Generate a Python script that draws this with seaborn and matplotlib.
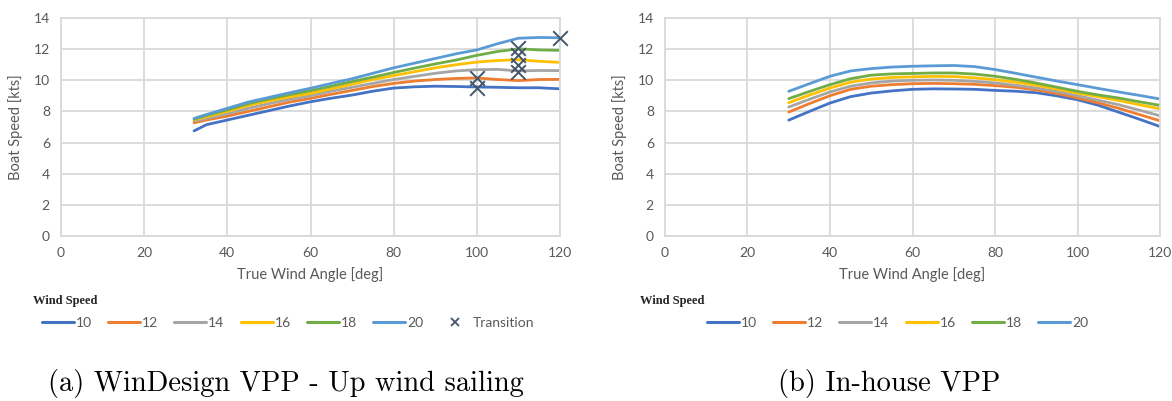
import numpy as np
import pandas as pd
import matplotlib
matplotlib.use("Agg")
import matplotlib.pyplot as plt
from matplotlib.lines import Line2D
import seaborn as sns

# ---------------- data ----------------
wind_speeds = [10, 12, 14, 16, 18, 20]
colors = ["#4472C4", "#ED7D31", "#A5A5A5", "#FFC000", "#70AD47", "#5B9BD5"]

twa_a = [32, 35, 40, 45, 50, 55, 60, 65, 70, 75, 80, 85, 90, 95, 100, 105, 110, 115, 120]
bs_a_10 = [6.75, 7.15, 7.45, 7.75, 8.05, 8.35, 8.62, 8.85, 9.05, 9.3, 9.5, 9.58, 9.62, 9.6, 9.57, 9.55, 9.52, 9.52, 9.45]
bs_a_12 = [7.27, 7.45, 7.7, 8.0, 8.3, 8.6, 8.84, 9.1, 9.35, 9.6, 9.8, 9.95, 10.05, 10.12, 10.15, 10.05, 9.98, 10.05, 10.06]
bs_a_14 = [7.38, 7.55, 7.85, 8.2, 8.5, 8.78, 9.0, 9.3, 9.55, 9.8, 10.05, 10.25, 10.45, 10.6, 10.68, 10.7, 10.6, 10.63, 10.62]
bs_a_16 = [7.45, 7.65, 8.0, 8.38, 8.68, 8.93, 9.16, 9.45, 9.75, 10.05, 10.3, 10.55, 10.8, 11.0, 11.17, 11.27, 11.32, 11.22, 11.15]
bs_a_18 = [7.5, 7.75, 8.1, 8.5, 8.8, 9.08, 9.33, 9.62, 9.92, 10.2, 10.5, 10.78, 11.05, 11.3, 11.6, 11.85, 12.02, 11.95, 11.92]
bs_a_20 = [7.55, 7.8, 8.2, 8.6, 8.9, 9.2, 9.49, 9.8, 10.1, 10.45, 10.8, 11.1, 11.4, 11.7, 11.95, 12.35, 12.7, 12.75, 12.73]

trans_twa = [100, 100, 110, 110, 110, 110, 120]
trans_bs = [9.5, 10.15, 10.55, 11.0, 11.6, 12.05, 12.72]

twa_b = [30, 35, 40, 45, 50, 55, 60, 65, 70, 75, 80, 85, 90, 95, 100, 105, 110, 115, 120]
bs_b_10 = [7.44, 8.0, 8.54, 8.95, 9.18, 9.32, 9.42, 9.45, 9.44, 9.42, 9.35, 9.3, 9.2, 9.0, 8.75, 8.4, 7.95, 7.5, 7.03]
bs_b_12 = [7.96, 8.5, 9.01, 9.42, 9.62, 9.72, 9.78, 9.8, 9.78, 9.74, 9.66, 9.55, 9.38, 9.15, 8.86, 8.55, 8.2, 7.8, 7.4]
bs_b_14 = [8.28, 8.78, 9.25, 9.62, 9.83, 9.95, 10.0, 10.02, 10.0, 9.93, 9.83, 9.68, 9.5, 9.28, 9.01, 8.72, 8.43, 8.08, 7.72]
bs_b_16 = [8.56, 9.05, 9.5, 9.88, 10.08, 10.18, 10.22, 10.25, 10.24, 10.16, 10.04, 9.88, 9.68, 9.44, 9.18, 8.95, 8.7, 8.43, 8.17]
bs_b_18 = [8.82, 9.28, 9.72, 10.1, 10.33, 10.41, 10.44, 10.47, 10.47, 10.4, 10.26, 10.06, 9.82, 9.56, 9.29, 9.06, 8.86, 8.62, 8.39]
bs_b_20 = [9.29, 9.78, 10.26, 10.6, 10.75, 10.85, 10.9, 10.93, 10.95, 10.88, 10.69, 10.45, 10.2, 9.95, 9.72, 9.48, 9.25, 9.03, 8.8]

x_ticks = [0, 20, 40, 60, 80, 100, 120]
y_ticks = [0, 2, 4, 6, 8, 10, 12, 14]


def long_df(twa, series):
    rows = []
    for ws, vals in zip(wind_speeds, series):
        for a, v in zip(twa, vals):
            rows.append({"TWA": a, "BS": v, "Wind Speed": ws})
    return pd.DataFrame(rows)


df_a = long_df(twa_a, [bs_a_10, bs_a_12, bs_a_14, bs_a_16, bs_a_18, bs_a_20])
df_b = long_df(twa_b, [bs_b_10, bs_b_12, bs_b_14, bs_b_16, bs_b_18, bs_b_20])
df_t = pd.DataFrame({"TWA": trans_twa, "BS": trans_bs})

# ---------------- style ----------------
sns.set_theme(style="white")
plt.rcParams["font.family"] = ["Lato", "DejaVu Sans"]
txt_gray = "#595959"
grid_c = "#D9D9D9"

fig = plt.figure(figsize=(11.72, 4.01), dpi=100)
ax_a = fig.add_axes([61 / 1172, 1 - 236 / 401, 499 / 1172, 218 / 401])
ax_b = fig.add_axes([665 / 1172, 1 - 236 / 401, 495 / 1172, 218 / 401])

pal = dict(zip(wind_speeds, colors))
for ax, df in ((ax_a, df_a), (ax_b, df_b)):
    sns.lineplot(data=df, x="TWA", y="BS", hue="Wind Speed", palette=pal,
                 linewidth=2.0, legend=False, ax=ax, sort=True)
sns.scatterplot(data=df_t, x="TWA", y="BS", marker="x", color="#44546A",
                s=110, linewidth=1.4, ax=ax_a, zorder=5, clip_on=False)

for ax in (ax_a, ax_b):
    ax.set_xlim(0, 120)
    ax.set_ylim(0, 14)
    ax.set_xticks(x_ticks)
    ax.set_yticks(y_ticks)
    ax.grid(True, color=grid_c, linewidth=1.3)
    ax.set_axisbelow(True)
    for sp in ax.spines.values():
        sp.set_color(grid_c)
        sp.set_linewidth(1.3)
    ax.tick_params(axis="both", length=0, labelsize=10, labelcolor=txt_gray, pad=8)
    ax.set_xlabel("True Wind Angle [deg]", fontsize=10.5, color=txt_gray, labelpad=6)
    ax.set_ylabel("Boat Speed [kts]", fontsize=10.5, color=txt_gray, labelpad=8)

# ---------------- legends ----------------
def ws_handles():
    return [Line2D([0], [0], color=c, lw=2.2) for c in colors]

leg_kw = dict(frameon=False, fontsize=10, labelcolor=txt_gray,
              handlelength=2.3, handletextpad=0.15, columnspacing=1.15, borderpad=0)
h_a = ws_handles() + [Line2D([0], [0], color="#44546A", marker="x", linestyle="none",
                              markersize=6, markeredgewidth=1.3)]
l_a = [str(w) for w in wind_speeds] + ["Transition"]
fig.legend(h_a, l_a, loc="center left", bbox_to_anchor=(35 / 1172, 1 - 323 / 401),
           ncol=7, **leg_kw)
fig.legend(ws_handles(), [str(w) for w in wind_speeds], loc="center left",
           bbox_to_anchor=(700 / 1172, 1 - 323 / 401), ncol=6, **leg_kw)

for x0 in (33, 640):
    fig.text(x0 / 1172, 1 - 301 / 401, "Wind Speed", family=["Liberation Serif"],
             fontsize=9, color="#262626", va="center", ha="left", weight="bold")

# ---------------- captions ----------------
fig.text(286 / 1172, 1 - 384 / 401, "(a) WinDesign VPP - Up wind sailing",
         family=["cmr10"], fontsize=20.5, ha="center", va="center", color="black")
fig.text(889 / 1172, 1 - 384 / 401, "(b) In-house VPP",
         family=["cmr10"], fontsize=20.5, ha="center", va="center", color="black")

fig.savefig("out.png", dpi=100)
